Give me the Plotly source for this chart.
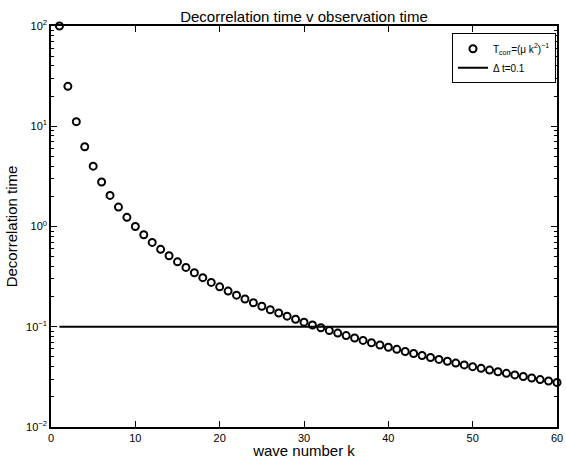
import plotly.graph_objects as go

# wave numbers and decorrelation times T_corr = (mu k^2)^-1
wave_number = list(range(1, 61))
decorrelation_time = [
    100.0, 25.0, 11.11, 6.25, 4.0, 2.778, 2.041, 1.5625, 1.235, 1.0,
    0.8264, 0.6944, 0.5917, 0.5102, 0.4444, 0.3906, 0.3460, 0.3086, 0.2770, 0.25,
    0.2268, 0.2066, 0.1890, 0.1736, 0.16, 0.1479, 0.1372, 0.1276, 0.1189, 0.1111,
    0.1041, 0.09766, 0.09183, 0.08651, 0.08163, 0.07716, 0.07305, 0.06925, 0.06575, 0.0625,
    0.05949, 0.05669, 0.05408, 0.05165, 0.04938, 0.04726, 0.04527, 0.04340, 0.04165, 0.04,
    0.03845, 0.03698, 0.03560, 0.03429, 0.03306, 0.03189, 0.03078, 0.02973, 0.02873, 0.02778,
]

# observation time
obs_k = [1, 60]
obs_time = [0.1, 0.1]

x_ticks = [0, 10, 20, 30, 40, 50, 60]
y_ticks = [0.01, 0.1, 1, 10, 100]
y_ticklabels = ["10<sup>−2</sup>", "10<sup>−1</sup>", "10<sup>0</sup>", "10<sup>1</sup>", "10<sup>2</sup>"]
# minor log ticks at 2..9 within each decade
y_minor = [m * d for d in y_ticks[:-1] for m in range(2, 10)]

FONT = "Liberation Sans, Arial, Helvetica, sans-serif"

fig = go.Figure()
fig.add_trace(go.Scatter(
    x=wave_number, y=decorrelation_time, mode="markers",
    name="T<sub>corr</sub>=(μ k<sup>2</sup>)<sup>−1</sup>",
    marker=dict(symbol="circle-open", size=7, color="black", line=dict(width=2, color="black")),
    cliponaxis=False,
))
# the observation-time line uses a twin pair of axes (top/right) so that
# tick marks appear on all four sides of the box
fig.add_trace(go.Scatter(
    x=obs_k, y=obs_time, mode="lines", name="Δ t=0.1",
    xaxis="x2", yaxis="y2",
    line=dict(color="black", width=2),
))

tick_style = dict(ticks="inside", tickcolor="black", showline=True, linecolor="black",
                  linewidth=1.5, mirror="ticks", showgrid=False, zeroline=False,
                  automargin=False)

fig.update_layout(
    width=566, height=459,
    margin=dict(l=51, r=9, t=26, b=32, autoexpand=False),
    paper_bgcolor="white", plot_bgcolor="white",
    font=dict(family=FONT, color="black", size=11),
    title=dict(text="Decorrelation time v observation time", x=0.5, xref="paper",
               xanchor="center", y=1, yref="paper", yanchor="bottom", pad=dict(b=4),
               font=dict(size=15, family=FONT, color="black")),
    showlegend=True,
    legend=dict(x=0.998, xanchor="right", y=0.982, yanchor="top",
                bordercolor="black", borderwidth=1, bgcolor="white",
                font=dict(size=10, family=FONT), tracegroupgap=0,
                itemwidth=30),
    xaxis=dict(
        range=[0, 60], tickmode="array", tickvals=x_ticks, ticklen=6, tickwidth=1.3,
        title=dict(text="wave number k", font=dict(size=15, family=FONT), standoff=4),
        tickfont=dict(size=11, family=FONT), **tick_style,
    ),
    yaxis=dict(
        type="log", range=[-2, 2], tickmode="array", tickvals=y_ticks, ticktext=y_ticklabels,
        ticklen=6, tickwidth=1.3,
        minor=dict(tickmode="array", tickvals=y_minor, ticks="inside", ticklen=3,
                   tickwidth=1.3, tickcolor="black", showgrid=False),
        title=dict(text="Decorrelation time", font=dict(size=15, family=FONT), standoff=5),
        tickfont=dict(size=11, family=FONT), **tick_style,
    ),
    xaxis2=dict(
        range=[0, 60], overlaying="x", side="top", anchor="y2",
        tickmode="array", tickvals=x_ticks, showticklabels=False,
        ticklen=6, tickwidth=1.3, **tick_style,
    ),
    yaxis2=dict(
        type="log", range=[-2, 2], overlaying="y", side="right", anchor="x2",
        tickmode="array", tickvals=y_ticks, showticklabels=False,
        ticklen=6, tickwidth=1.3,
        minor=dict(tickmode="array", tickvals=y_minor, ticks="inside", ticklen=3,
                   tickwidth=1.3, tickcolor="black", showgrid=False),
        **tick_style,
    ),
)

fig.write_html("out.html")
